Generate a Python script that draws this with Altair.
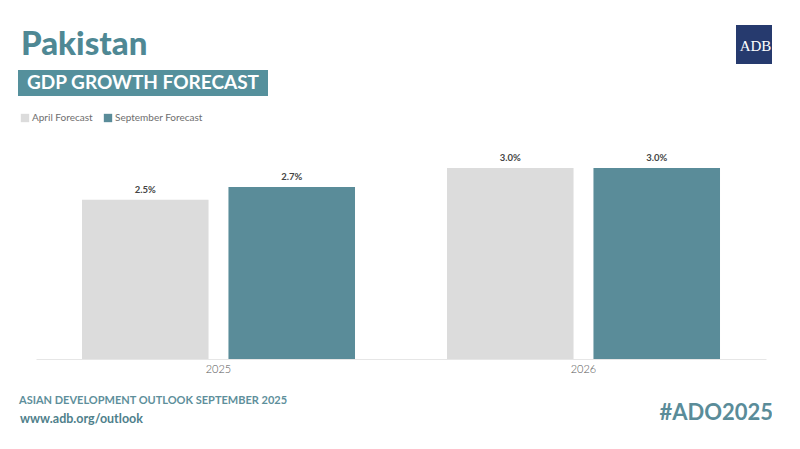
import altair as alt
import pandas as pd

years = ["2025", "2025", "2026", "2026"]
series = ["April Forecast", "September Forecast", "April Forecast", "September Forecast"]
values = [2.5, 2.7, 3.0, 3.0]
labels = ["2.5%", "2.7%", "3.0%", "3.0%"]

series_order = ["April Forecast", "September Forecast"]
series_colors = ["#dcdcdc", "#5a8c99"]

TEAL = "#4f8894"
FONT = "Lato"

df = pd.DataFrame({"year": years, "series": series, "value": values, "label": labels})

x = alt.X("year:N", title=None,
          scale=alt.Scale(paddingInner=0.252, paddingOuter=0.126),
          axis=alt.Axis(labelAngle=0, ticks=False, domainColor="#e6e6e6", domainWidth=1,
                        labelColor="#555555", labelFontSize=11, labelFont=FONT,
                        labelFontWeight=300, labelPadding=4))
xo = alt.XOffset("series:N", sort=series_order,
                 scale=alt.Scale(paddingInner=0.136, paddingOuter=0))
y = alt.Y("value:Q", title=None, scale=alt.Scale(domain=[0, 3.0], nice=False, zero=True),
          axis=None)

bars = alt.Chart(df).mark_bar().encode(
    x=x, xOffset=xo, y=y,
    color=alt.Color("series:N", sort=series_order,
                    scale=alt.Scale(domain=series_order, range=series_colors),
                    legend=alt.Legend(title=None, orient="none", legendX=-16, legendY=-55,
                                      direction="horizontal", symbolType="square",
                                      symbolSize=70, symbolStrokeWidth=0,
                                      labelFontSize=10, labelColor="#6e6e6e", labelFont=FONT,
                                      labelOffset=2, columnPadding=10, symbolOffset=0)),
)

text = alt.Chart(df).mark_text(dy=-5, fontSize=9.5, fontWeight="bold", color="#444444",
                               font=FONT, baseline="bottom").encode(
    x=x, xOffset=xo, y=y, text="label:N")

def note(t, xv, yv, **kw):
    return alt.Chart(pd.DataFrame({"t": [t]})).mark_text(**kw).encode(
        x=alt.value(xv), y=alt.value(yv), text="t:N")

def box(x1, x2, y1, y2, color):
    return alt.Chart(pd.DataFrame({"a": [0]})).mark_rect(color=color).encode(
        x=alt.value(x1), x2=alt.value(x2), y=alt.value(y1), y2=alt.value(y2))

title = note("Pakistan", -15, -113, align="left", baseline="alphabetic", fontSize=33,
             fontWeight=900, color=TEAL, font=FONT)
subbox = box(-18, 232, -98, -72, "#55909c")
subtitle = note("GDP GROWTH FORECAST", -9, -79, align="left", baseline="alphabetic",
                fontSize=19, color="white", font=FONT, fontWeight="bold")
logo = box(700, 739, -143, -104, "#263a6e")
logo_t = note("ADB", 719.5, -117, align="center", baseline="alphabetic", fontSize=15,
              color="white", font="Liberation Serif")
foot1 = note("ASIAN DEVELOPMENT OUTLOOK SEPTEMBER 2025", -17, 236, align="left",
             baseline="alphabetic", fontSize=11, fontWeight="bold", color="#5e8f9b", font=FONT)
foot2 = note("www.adb.org/outlook", -16, 255, align="left", baseline="alphabetic",
             fontSize=12.5, fontWeight="bold", color="#4f7f8b", font=FONT)
hashtag = note("#ADO2025", 737, 252, align="right", baseline="alphabetic", fontSize=22,
               fontWeight="bold", color="#5a8c99", font=FONT)

chart = alt.layer(bars, text, title, subbox, subtitle, logo, logo_t, foot1, foot2, hashtag).properties(
    width=730, height=191,
    autosize=alt.AutoSizeParams(type="none"),
    padding={"left": 28, "top": 160, "right": 6, "bottom": 80},
    background="white",
).configure_view(stroke=None)

chart.save("out.html", embed_options={"renderer": "svg", "actions": False})
